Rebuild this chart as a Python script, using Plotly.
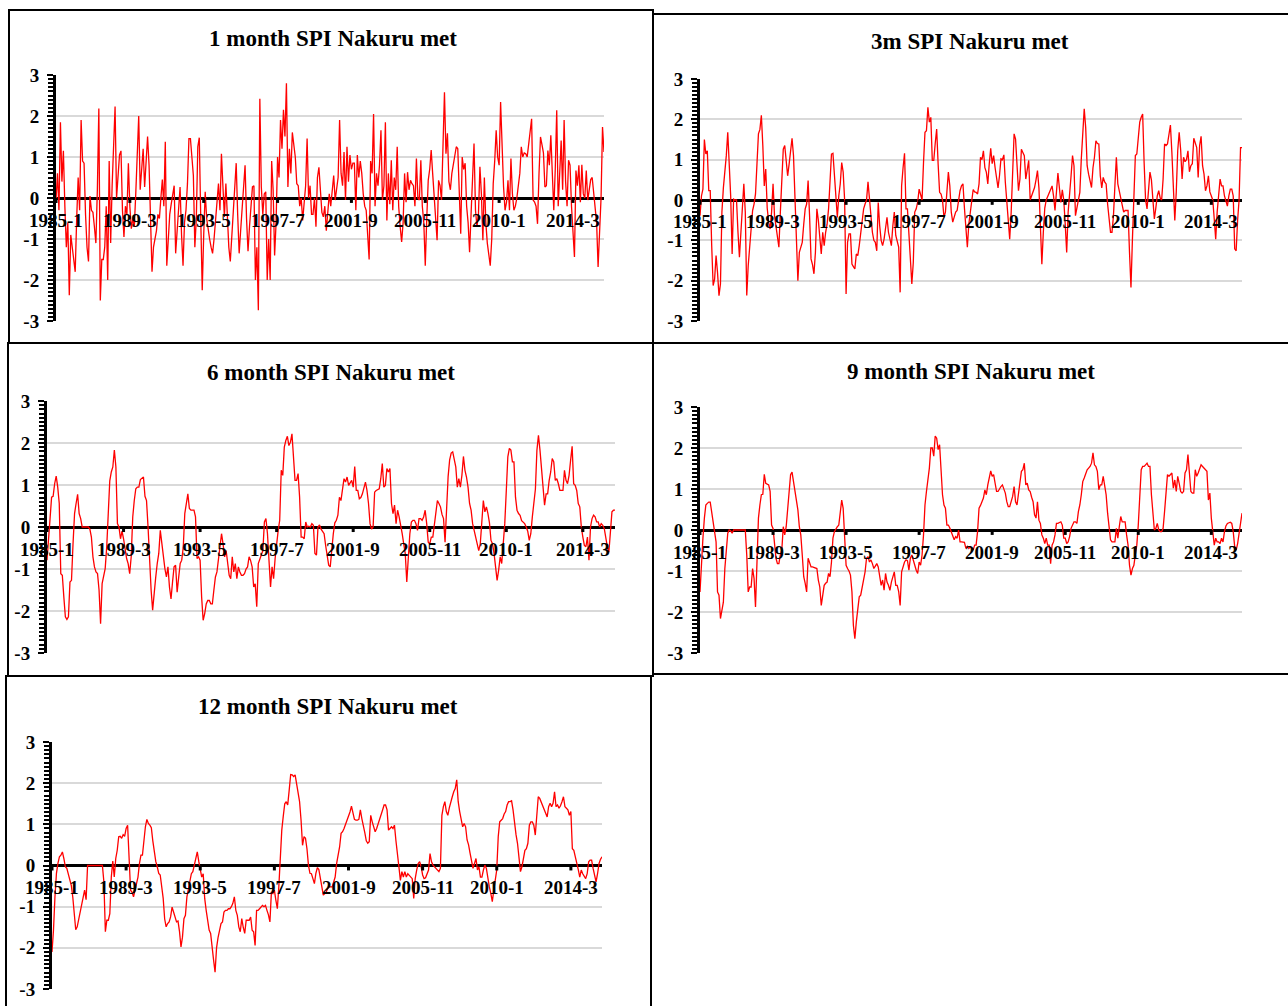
import plotly.graph_objects as go

W, H = 1288, 1006

# ---------------- data ----------------
tick_labels = ["1985-1", "1989-3", "1993-5", "1997-7", "2001-9", "2005-11", "2010-1", "2014-3"]
tick_index = [0, 50, 100, 150, 200, 250, 300, 350]
y_tick_values = [-3, -2, -1, 0, 1, 2, 3]
y_tick_labels = ["-3", "-2", "-1", "0", "1", "2", "3"]
n_months = 372  # 1985-01 .. 2015-12
months = list(range(n_months))

titles = ["1 month SPI Nakuru met", "3m SPI Nakuru met", "6 month SPI Nakuru met",
          "9 month SPI Nakuru met", "12 month SPI Nakuru met"]

spi1 = [
    -0.05, 0.6, -0.3, 1.85, 0.4, 1.15, -0.2, -1.2, -0.6, -2.37, -0.9, -1.2,
    -1.4, -1.8, -0.5, 0.5, -0.3, 1.9, 0.9, 0.85, -0.4, -1.2, -1.55, 0.05,
    -0.3, -0.35, -0.7, -1.1, 0.2, 2.18, -2.5, -1.5, -1.5, -1.2, -0.2, -2.0,
    0.9, -1.1, 0.3, 1.2, 2.23, 0.0, 0.6, 1.05, 1.15, -0.3, -0.95, -0.2,
    -0.4, 0.85, -0.2, -0.75, -0.5, -0.7, 0.1, 1.2, 2.0, 0.2, 0.7, 1.2,
    0.27, 0.9, 1.5, 0.8, -0.5, -1.8, -1.2, -1.03, -0.8, -0.4, -0.5, 0.0,
    0.45, -0.2, 1.37, -1.65, -0.9, -0.4, -0.15, 0.1, 0.3, -1.35, -0.8, -0.2,
    0.27, -0.9, -1.65, -0.6, -0.3, 0.35, 1.45, 1.45, 0.9, 0.55, -1.2, -0.5,
    1.25, 1.47, -0.5, -2.25, -0.9, 0.15, -0.5, -0.8, -1.0, -1.2, -1.35, -1.0,
    -0.55, -0.2, 0.35, -0.3, 1.08, 0.3, -0.46, 0.35, -0.5, -1.2, -1.55, -1.0,
    -0.3, 0.3, 0.85, -0.4, -1.35, -0.8, -0.3, 0.1, 0.8, -0.5, -1.3, -0.7,
    -0.3, 0.27, 0.3, -2.0, -1.2, -2.74, 2.42, 0.27, -0.4, 0.1, 0.15, -2.0,
    -1.0, -2.0, 0.9, 0.2, -1.4, -0.6, 1.0, 0.5, 1.9, 1.2, 2.15, 1.5,
    2.8, 0.27, 1.2, 0.6, 1.6, 1.3, 1.0, 0.35, 0.3, -0.2, 0.0, -0.55,
    -0.2, 0.3, 1.45, 0.0, 0.3, -0.4, -0.4, 0.0, -0.7, 0.5, 0.75, 0.3,
    -0.35, -0.46, -0.2, -0.8, -0.4, 0.1, -0.2, 0.3, 0.55, -0.05, 0.2, 0.5,
    1.9, 0.6, 0.3, 1.12, -0.05, 1.25, 0.4, 1.05, 0.7, 0.85, 0.85, -0.3,
    1.05, 0.5, 0.9, 0.6, 0.1, -0.2, -0.3, -0.8, -1.5, 0.9, 0.6, 2.05,
    -0.2, 0.6, 0.3, 0.8, 1.65, -0.05, 0.3, 1.85, -0.55, 0.6, -0.15, 0.92,
    -0.3, 0.5, 0.2, 1.25, -0.2, -0.7, -1.07, -0.6, 0.6, -0.1, 0.63, 0.2,
    0.43, 0.35, 0.3, -0.2, 0.96, 0.0, -0.05, 0.92, -0.2, -0.6, -1.65, -0.5,
    0.43, 0.7, 1.17, 0.6, 0.1, -0.5, -1.03, 0.43, 0.3, -0.05, 1.2, 2.58,
    1.08, 1.58, 0.4, 0.2, 0.6, 0.84, 1.1, 1.25, 1.2, 0.3, -0.87, 1.0,
    0.7, 0.85, -0.2, -0.6, -1.32, -0.4, 0.35, 1.33, -0.3, -0.7, -0.4, 0.76,
    0.1, -1.03, 0.5, -0.6, -1.1, -1.44, -1.65, -1.0, 0.35, 0.9, 1.65, 1.0,
    0.8, 2.34, 1.0, 0.27, -0.3, -0.1, 0.43, -0.3, 0.96, 0.1, -0.3, -0.2,
    0.0, 0.3, 0.6, 1.25, 1.0, 1.1, 1.08, 1.0, 1.3, 1.6, 1.93, -0.05,
    -0.1, -0.2, -0.63, 0.6, 1.49, 1.3, 1.1, 0.27, 0.3, 1.16, 0.8, 1.53,
    0.5, -0.3, 0.7, 2.14, -0.2, 0.6, 1.4, 0.2, 1.9, 0.4, -0.2, 0.92,
    0.8, -0.2, -0.8, -1.44, 0.67, 0.3, 0.8, -0.1, 0.81, 0.1, 0.0, 0.67,
    -0.05, 0.27, 0.45, 0.5, 0.1, -0.2, -0.6, -1.68, -0.8, 0.0, 1.73, 1.12,
]

spi3 = [
    -0.39, 0.1, 0.27, 1.5, 1.14, 1.22, 0.23, 0.23, -1.13, -2.12, -1.96, -1.38,
    -1.8, -2.37, -2.08, -0.3, 0.3, 0.64, 1.1, 1.68, 0.9, 0.1, -1.34, 0.02,
    0.0, 0.0, -0.8, -1.42, -0.8, -0.26, 0.4, -0.3, -2.37, -1.63, -1.21, -0.8,
    -0.26, -0.1, 0.15, 0.9, 1.64, 1.75, 2.1, 1.35, 0.35, 0.77, -0.2, -0.55,
    -0.72, -0.3, 0.4, -0.39, -0.7, -0.93, -1.17, -0.3, 0.56, 1.26, 1.35, 0.93,
    0.6, 0.89, 1.2, 1.53, 1.1, 0.19, -1.0, -2.0, -1.3, -1.2, -1.05, -0.6,
    -0.22, -0.1, 0.48, -0.39, -1.46, -1.6, -1.83, -1.3, -0.22, -0.5, -0.97, -1.34,
    -0.8, -1.13, -0.8, -0.6, -0.22, 0.6, 1.14, 1.16, 0.6, -0.1, -0.43, 0.1,
    0.4, 0.93, 0.69, 0.0, -2.33, -1.05, -0.84, -0.84, -1.59, -1.65, -1.71, -1.34,
    -1.38, -1.13, -0.8, -0.55, -0.22, -0.1, 0.0, 0.45, 0.0, -0.5, -0.8, -1.0,
    -1.05, -1.26, -0.06, -0.64, -1.0, -1.13, -0.97, -0.7, -0.43, -0.8, -1.0, -1.13,
    -0.64, -0.3, -0.88, -1.0, -1.17, -2.29, 0.35, 0.8, 1.16, -0.22, -0.22, -0.84,
    -1.5, -2.08, -1.55, -0.3, -0.22, -0.05, 0.27, 0.1, 0.0, 0.93, 1.68, 1.72,
    2.3, 1.93, 2.05, 0.98, 0.98, 1.4, 1.76, 0.89, 0.19, 0.15, 0.0, -0.43,
    -0.3, 0.2, 0.69, 0.35, -0.3, -0.55, -0.4, -0.3, -0.26, 0.0, 0.23, 0.35,
    0.4, -0.2, -0.6, -1.17, -0.6, -0.3, 0.1, 0.26, 0.2, 0.19, 0.15, 0.4,
    1.06, 1.0, 1.22, 0.8, 0.69, 0.4, 0.9, 1.28, 0.9, 1.1, 0.8, 0.52,
    0.3, 0.6, 1.02, 1.0, 1.12, 0.44, 0.0, -0.5, -0.97, -0.3, 0.6, 1.64,
    1.51, 0.77, 0.23, 0.52, 1.26, 1.18, 1.1, 0.52, 0.8, 0.98, 0.0, 0.1,
    0.2, 0.31, 0.5, 0.73, 0.3, -0.5, -1.59, -0.8, -0.2, 0.0, 0.1, 0.2,
    0.3, 0.35, 0.1, -0.26, 0.2, 0.67, 0.3, -0.06, 0.25, 0.0, -0.6, -1.3,
    -0.3, 0.3, 0.6, 1.1, 0.85, -0.39, -0.2, 0.0, 0.19, 1.02, 1.6, 2.26,
    1.8, 0.85, 0.64, 0.5, 0.31, 0.8, 1.06, 1.47, 1.4, 1.39, 0.6, 0.3,
    0.56, 0.45, 0.4, -0.1, -0.5, -0.8, -0.8, -0.4, 0.35, 1.06, 0.4, 0.2,
    0.0, -0.1, -0.3, -0.26, -0.26, -0.26, -1.3, -2.17, -0.97, 0.2, 1.1, 1.14,
    1.6, 1.93, 2.05, 2.13, 0.93, 0.0, -0.22, 0.35, 0.69, 0.5, 0.1, -0.47,
    -0.2, 0.1, 0.23, 0.05, 0.0, 0.52, 1.39, 1.35, 1.39, 1.6, 1.86, 1.18,
    0.35, -0.51, 0.2, 1.22, 1.68, 1.25, 0.52, 1.06, 0.95, 1.0, 1.22, 0.7,
    0.85, 0.9, 1.53, 1.43, 1.3, 0.56, 1.35, 1.58, 0.85, 0.64, 0.23, 0.35,
    0.6, 0.2, 0.1, 0.0, -0.47, -0.97, -0.3, 0.1, 0.52, 0.35, 0.35, 0.1,
    0.0, -0.15, 0.1, 0.27, 0.27, 0.1, -1.21, -1.26, -0.5, 0.0, 1.3, 1.3,
]

spi6 = [
    -0.79, -0.16, 0.2, 0.71, 0.73, 1.03, 1.21, 0.95, 0.56, -1.11, -1.15, -1.67,
    -2.14, -2.2, -2.14, -1.31, -1.27, -0.4, 0.32, 0.56, 0.78, 0.32, 0.2, 0.0,
    0.0, 0.0, 0.0, 0.0, -0.05, -0.24, -0.71, -0.95, -1.07, -1.11, -1.5, -2.3,
    -1.35, -1.19, -0.99, -0.48, 0.4, 1.1, 1.31, 1.43, 1.83, 1.43, 0.08, 0.0,
    -0.28, -0.1, -0.28, -0.56, -0.75, -0.87, -1.11, -0.71, 0.24, 0.63, 0.91, 0.95,
    0.95, 1.13, 1.17, 1.19, 0.73, 0.63, 0.0, -0.87, -1.5, -1.98, -1.5, -1.2,
    -0.87, -0.63, -0.08, -0.4, -0.71, -0.99, -1.19, -0.95, -1.43, -1.71, -1.31, -0.95,
    -0.91, -1.55, -1.2, -0.87, -0.79, -0.48, 0.32, 0.63, 0.79, 0.44, 0.4, 0.4,
    0.4, 0.24, -0.75, -0.71, -0.79, -1.67, -2.22, -2.06, -1.83, -1.75, -1.75, -1.83,
    -1.83, -1.5, -1.19, -1.07, -0.71, -0.52, -0.16, -0.4, -0.71, -0.56, -0.91, -1.15,
    -1.23, -0.71, -1.07, -0.87, -1.23, -0.95, -1.07, -1.15, -1.15, -1.11, -1.0, -0.95,
    -0.71, -0.8, -0.95, -1.43, -1.35, -1.9, -0.87, -0.75, -0.63, -0.56, 0.12, 0.2,
    -0.16, -0.87, -1.43, -0.95, -1.23, -0.75, -0.32, -0.08, 0.16, 1.35, 1.23, 1.9,
    2.06, 2.16, 1.94, 2.02, 2.22, 1.67, 1.11, 1.11, 1.27, 0.71, -0.24, -0.24,
    -0.28, 0.12, 0.0, 0.02, 0.0, 0.08, 0.04, -0.63, -0.67, 0.0, 0.05, -0.05,
    -0.12, -0.16, -0.44, -0.71, -0.91, -0.95, -0.48, -0.16, 0.1, 0.16, 0.28, 0.71,
    0.63, 0.87, 1.15, 1.07, 1.19, 0.99, 1.05, 1.11, 0.95, 1.44, 0.87, 0.87,
    0.67, 0.7, 0.79, 0.95, 1.07, 0.87, 0.56, 0.08, -0.05, 0.0, 0.83, 0.87,
    0.9, 0.91, 1.15, 1.51, 0.95, 0.99, 1.39, 1.31, 1.39, 0.56, 0.32, 0.52,
    0.08, 0.4, 0.24, 0.08, -0.16, -0.4, -0.63, -1.31, -0.71, -0.16, 0.12, 0.16,
    0.16, 0.08, -0.08, 0.2, 0.2, 0.16, 0.24, 0.4, 0.08, -0.36, -0.4, -0.24,
    -0.24, 0.08, 0.4, 0.63, 0.56, 0.48, 0.3, 0.2, -0.36, 0.6, 1.2, 1.6,
    1.76, 1.79, 1.6, 1.43, 0.95, 1.15, 0.95, 1.23, 1.68, 1.35, 1.19, 0.95,
    0.56, 0.4, 0.08, -0.1, -0.24, -0.44, -0.56, -0.4, 0.08, 0.63, 0.36, 0.48,
    0.32, 0.1, -0.32, -0.4, -0.63, -0.91, -1.27, -1.03, -0.71, -0.87, -0.4, 0.08,
    0.87, 1.67, 1.87, 1.83, 1.55, 1.55, 0.71, 0.4, 0.32, 0.28, 0.15, 0.12,
    0.08, 0.0, -0.1, -0.32, -0.16, 0.24, 0.52, 0.9, 1.83, 2.18, 1.83, 1.35,
    0.87, 0.52, 0.79, 0.79, 1.11, 1.31, 1.63, 1.55, 1.11, 1.15, 1.03, 0.87,
    0.87, 0.87, 1.35, 1.11, 1.03, 1.23, 1.59, 1.92, 1.03, 0.99, 0.87, 0.56,
    0.48, 0.0, -0.24, -0.44, -0.47, -0.24, -0.79, 0.0, 0.2, 0.28, 0.24, 0.12,
    0.12, 0.0, 0.08, 0.04, -0.04, -0.32, -0.47, -0.6, -0.08, 0.36, 0.4, 0.4,
]

spi9 = [
    -1.51, -0.78, -0.2, 0.29, 0.61, 0.65, 0.68, 0.68, 0.45, 0.12, 0.0, -0.29,
    -1.51, -1.59, -2.16, -1.92, -1.76, -0.94, -0.45, -0.08, 0.0, -0.02, -0.08, 0.0,
    0.0, 0.0, 0.0, 0.0, 0.0, 0.0, 0.0, 0.0, -0.61, -1.51, -1.39, -1.39,
    -0.94, -1.18, -1.88, -0.78, 0.29, 0.61, 0.86, 0.87, 1.36, 1.14, 1.12, 1.1,
    0.94, 0.12, 0.04, -0.37, -0.69, -0.82, -0.82, -0.6, -0.49, 0.08, -0.12, 0.08,
    0.45, 0.94, 1.35, 1.41, 1.2, 0.94, 0.69, 0.49, 0.08, -0.12, -0.61, -1.14,
    -1.3, -1.51, -0.69, -0.78, -0.9, -0.9, -0.92, -0.94, -0.94, -1.22, -1.39, -1.84,
    -1.51, -1.35, -1.3, -1.27, -1.06, -1.14, -0.78, -0.2, -0.04, 0.04, 0.08, 0.12,
    0.41, 0.73, 0.53, -0.2, -0.86, -0.94, -1.0, -1.1, -1.51, -2.33, -2.65, -2.24,
    -1.92, -1.63, -1.59, -1.4, -1.27, -1.02, -0.69, -0.65, -0.78, -0.73, -0.82, -0.94,
    -0.88, -0.82, -0.9, -1.18, -1.35, -1.22, -1.47, -1.06, -1.27, -1.35, -1.47, -1.27,
    -1.14, -1.02, -1.35, -1.35, -1.5, -1.84, -1.02, -0.86, -0.78, -0.73, -0.75, -0.98,
    -0.69, -0.61, -0.73, -0.9, -0.98, -1.06, -0.78, -0.86, -0.61, -0.12, 0.61, 0.94,
    1.2, 1.51, 2.0, 2.0, 1.8, 2.29, 2.24, 1.96, 2.08, 1.47, 0.86, 0.61,
    0.53, 0.12, 0.12, 0.05, -0.04, -0.16, -0.24, -0.16, -0.2, 0.0, -0.29, -0.29,
    -0.29, -0.3, -0.45, -0.4, -0.45, -0.41, -0.45, -0.49, -0.37, -0.37, -0.04, 0.53,
    0.6, 0.7, 0.78, 0.98, 0.86, 1.1, 1.28, 1.44, 1.31, 1.35, 1.14, 0.94,
    0.94, 1.02, 1.06, 1.1, 1.02, 0.9, 0.69, 0.57, 0.57, 0.7, 0.82, 1.06,
    0.69, 0.61, 0.86, 1.18, 1.43, 1.47, 1.63, 1.1, 1.14, 0.98, 0.94, 0.8,
    0.69, 0.37, 0.29, 0.69, 0.24, 0.16, -0.12, -0.2, -0.33, -0.2, -0.37, -0.37,
    -0.82, -0.37, -0.29, -0.12, 0.16, 0.16, 0.19, 0.2, 0.12, -0.2, -0.2, -0.33,
    -0.29, -0.16, 0.04, 0.12, 0.2, 0.2, 0.16, 0.45, 0.61, 0.86, 1.18, 1.27,
    1.4, 1.47, 1.51, 1.55, 1.63, 1.88, 1.59, 1.55, 1.43, 0.98, 1.1, 1.1,
    1.31, 1.02, 0.86, 0.41, 0.0, -0.24, -0.29, -0.29, -0.29, 0.04, -0.2, 0.08,
    0.33, 0.2, 0.2, 0.2, -0.12, -0.37, -0.86, -1.1, -0.94, -0.86, -0.6, -0.37,
    0.12, 0.86, 1.47, 1.55, 1.55, 1.59, 1.63, 1.55, 1.55, 0.86, 0.37, 0.0,
    0.04, 0.16, 0.0, -0.04, -0.04, 0.04, 0.45, 0.86, 1.35, 1.31, 1.35, 1.39,
    1.02, 1.22, 0.94, 1.31, 1.14, 0.94, 0.9, 0.94, 1.39, 1.47, 1.84, 1.43,
    0.94, 0.9, 0.9, 1.47, 1.31, 1.39, 1.47, 1.59, 1.55, 1.5, 1.47, 1.43,
    0.73, 0.9, 0.29, -0.12, -0.37, -0.2, -0.29, -0.29, -0.33, -0.2, -0.29, -0.04,
    0.1, 0.16, 0.18, 0.19, 0.16, -0.04, -0.41, -0.49, -0.33, 0.0, 0.16, 0.41,
]

spi12 = [
    -2.1, -1.57, -0.76, -0.19, 0.05, 0.21, 0.25, 0.33, 0.17, -0.03, -0.07, -0.19,
    -0.3, -0.48, -0.76, -1.25, -1.56, -1.49, -1.3, -1.13, -0.95, -0.7, -0.6, -0.83,
    0.0, 0.0, 0.0, 0.0, 0.0, 0.0, 0.0, 0.0, 0.0, 0.0, 0.0, -0.4,
    -1.61, -1.33, -1.33, -1.17, -0.28, 0.11, -0.28, 0.17, 0.37, 0.7, 0.71, 0.66,
    0.75, 0.71, 0.9, 0.98, 0.3, -0.6, -0.65, -0.76, -0.6, -0.4, -0.28, 0.05,
    0.25, 0.25, 0.62, 0.94, 1.12, 1.02, 0.98, 0.92, 0.6, 0.3, 0.1, -0.03,
    -0.19, -0.23, -0.52, -0.8, -1.3, -1.49, -1.41, -1.37, -1.25, -1.01, -1.13, -1.29,
    -1.37, -1.35, -1.6, -1.98, -1.74, -1.29, -1.21, -0.76, -0.55, -0.4, -0.2, -0.15,
    0.0, 0.21, 0.33, 0.1, -0.11, -0.28, -0.2, -0.8, -1.09, -1.33, -1.57, -1.65,
    -2.06, -2.3, -2.59, -2.0, -1.75, -1.55, -1.41, -1.37, -1.13, -1.09, -1.09, -1.05,
    -1.05, -1.0, -0.92, -0.76, -1.09, -1.21, -1.49, -1.61, -1.29, -1.5, -1.65, -1.33,
    -1.33, -1.33, -1.25, -1.57, -1.61, -1.94, -1.09, -1.09, -1.05, -1.0, -0.97, -1.0,
    -0.97, -1.09, -1.2, -1.37, -0.64, -0.68, -0.6, -0.84, -1.05, -0.52, 0.21, 0.86,
    1.2, 1.5, 1.55, 1.47, 1.83, 2.21, 2.2, 2.16, 2.2, 2.0, 1.83, 1.55,
    1.1, 0.49, 0.7, 0.66, 0.4, 0.0, -0.19, -0.2, -0.32, -0.44, -0.19, -0.05,
    -0.1, -0.3, -0.5, -0.72, -0.68, -0.64, -0.56, -0.52, -0.52, -0.52, -0.4, -0.28,
    0.05, 0.25, 0.45, 0.78, 0.82, 0.9, 1.0, 1.05, 1.15, 1.3, 1.44, 1.27,
    1.12, 1.1, 1.1, 1.12, 1.35, 1.14, 1.0, 0.8, 0.6, 0.54, 0.58, 1.22,
    1.06, 0.94, 0.82, 0.9, 1.0, 1.1, 1.2, 1.35, 1.47, 1.47, 1.35, 0.86,
    0.9, 0.94, 0.9, 0.98, 0.6, 0.2, -0.03, -0.36, -0.15, -0.28, -0.15, -0.28,
    -0.2, -0.24, -0.28, -0.32, -0.8, -0.32, -0.11, 0.05, 0.09, -0.03, -0.23, -0.32,
    -0.3, -0.2, -0.11, 0.29, 0.09, 0.01, -0.03, -0.08, -0.11, -0.15, -0.07, 1.22,
    1.43, 1.55, 1.31, 1.22, 1.4, 1.51, 1.67, 1.79, 1.87, 2.08, 1.55, 1.31,
    1.1, 0.94, 1.02, 0.94, 0.62, 0.5, 0.3, 0.1, -0.07, 0.05, 0.17, -0.11,
    -0.03, -0.28, -0.28, -0.11, 0.01, -0.07, -0.36, -0.52, -0.68, -0.88, -0.6, -0.36,
    -0.11, 0.7, 1.06, 1.1, 1.14, 1.25, 1.31, 1.47, 1.55, 1.55, 1.57, 1.35,
    0.98, 0.75, 0.54, 0.09, -0.15, -0.03, 0.21, 0.37, 0.41, 0.54, 0.98, 1.06,
    1.06, 0.98, 0.74, 1.14, 1.67, 1.63, 1.55, 1.45, 1.35, 1.27, 1.18, 1.43,
    1.51, 1.43, 1.51, 1.79, 1.43, 1.47, 1.39, 1.45, 1.55, 1.67, 1.43, 1.39,
    1.35, 1.22, 1.31, 0.41, 0.37, 0.21, 0.01, -0.1, -0.28, -0.11, -0.2, -0.28,
    -0.32, -0.2, 0.09, 0.13, 0.13, -0.07, -0.28, -0.4, -0.2, 0.05, 0.15, 0.21,
]

series = [spi1, spi3, spi6, spi9, spi12]
for s in series:
    if len(s) != n_months:
        raise ValueError("series length %d" % len(s))

# ---------------- layout (pixel geometry) ----------------
# plot area: left, right, top(+3), bottom(-3); title centre; panel frame
panels = [
    dict(x0=56, x1=604, y0=75, y1=321, tx=333, ty=39, box=(9, 10, 653, 343)),
    dict(x0=700, x1=1242, y0=79, y1=321, tx=970, ty=42, box=(653, 14, 1290, 343)),
    dict(x0=47, x1=615, y0=401, y1=653, tx=331, ty=372, box=(8, 343, 653, 676)),
    dict(x0=700, x1=1242, y0=407, y1=653, tx=971, ty=371, box=(653, 343, 1290, 674)),
    dict(x0=52, x1=602, y0=742, y1=989, tx=328, ty=706, box=(6, 676, 651, 1010)),
]


def fx(p):
    return p / W


def fy(p):
    return 1 - p / H


FONT = "Liberation Serif"
fig = go.Figure()
shapes = []
annotations = []

for i, (p, ttl, vals) in enumerate(zip(panels, titles, series), start=1):
    sfx = "" if i == 1 else str(i)
    xa, ya = "x" + sfx, "y" + sfx
    fig.add_trace(go.Scatter(x=months, y=vals, mode="lines",
                             line=dict(color="#ff0000", width=1.3),
                             xaxis=xa, yaxis=ya, hoverinfo="skip", showlegend=False))
    fig.layout["xaxis" + sfx] = dict(
        domain=[fx(p["x0"]), fx(p["x1"])], range=[0, n_months - 1], anchor=ya,
        showgrid=False, zeroline=False, showline=False, showticklabels=False,
        ticks="", fixedrange=True, automargin=False)
    fig.layout["yaxis" + sfx] = dict(
        domain=[fy(p["y1"]), fy(p["y0"])], range=[-3, 3], anchor=xa,
        tickmode="array", tickvals=y_tick_values, ticktext=y_tick_labels,
        showgrid=True, gridcolor="#d9d9d9", gridwidth=1.5,
        zeroline=True, zerolinecolor="black", zerolinewidth=3,
        showline=True, linecolor="black", linewidth=3,
        ticks="outside", ticklen=6, tickwidth=2, tickcolor="black",
        minor=dict(dtick=0.1, ticks="outside", ticklen=5, tickwidth=1.5,
                   tickcolor="black", showgrid=False),
        tickfont=dict(family=FONT, size=19, color="black", weight="bold"),
        ticklabelstandoff=4, fixedrange=True, automargin=False)

    # category tick marks and labels sitting on the zero line
    for tv, tl in zip(tick_index, tick_labels):
        shapes.append(dict(type="line", xref=xa, yref=ya, x0=tv, x1=tv, y0=0, y1=-0.12,
                           line=dict(color="black", width=3)))
        annotations.append(dict(x=tv, y=0, xref=xa, yref=ya, text=tl, showarrow=False,
                                yanchor="middle", xanchor="center", yshift=-22,
                                font=dict(family=FONT, size=19, color="black", weight="bold")))

    annotations.append(dict(x=fx(p["tx"]), y=fy(p["ty"]), xref="paper", yref="paper",
                            text=ttl, showarrow=False, xanchor="center", yanchor="middle",
                            font=dict(family=FONT, size=23, color="black", weight="bold")))

    bx0, by0, bx1, by1 = p["box"]
    shapes.append(dict(type="rect", xref="paper", yref="paper",
                       x0=fx(bx0), x1=fx(bx1), y0=fy(by1), y1=fy(by0),
                       line=dict(color="black", width=2), fillcolor="rgba(0,0,0,0)"))

fig.update_layout(width=W, height=H,
                  margin=dict(l=0, r=0, t=0, b=0, pad=0, autoexpand=False),
                  paper_bgcolor="white", plot_bgcolor="white", showlegend=False,
                  shapes=shapes, annotations=annotations)

fig.write_html("out.html", config={"displayModeBar": False},
               post_script="document.body.style.margin='0px';document.body.style.overflow='hidden';")
